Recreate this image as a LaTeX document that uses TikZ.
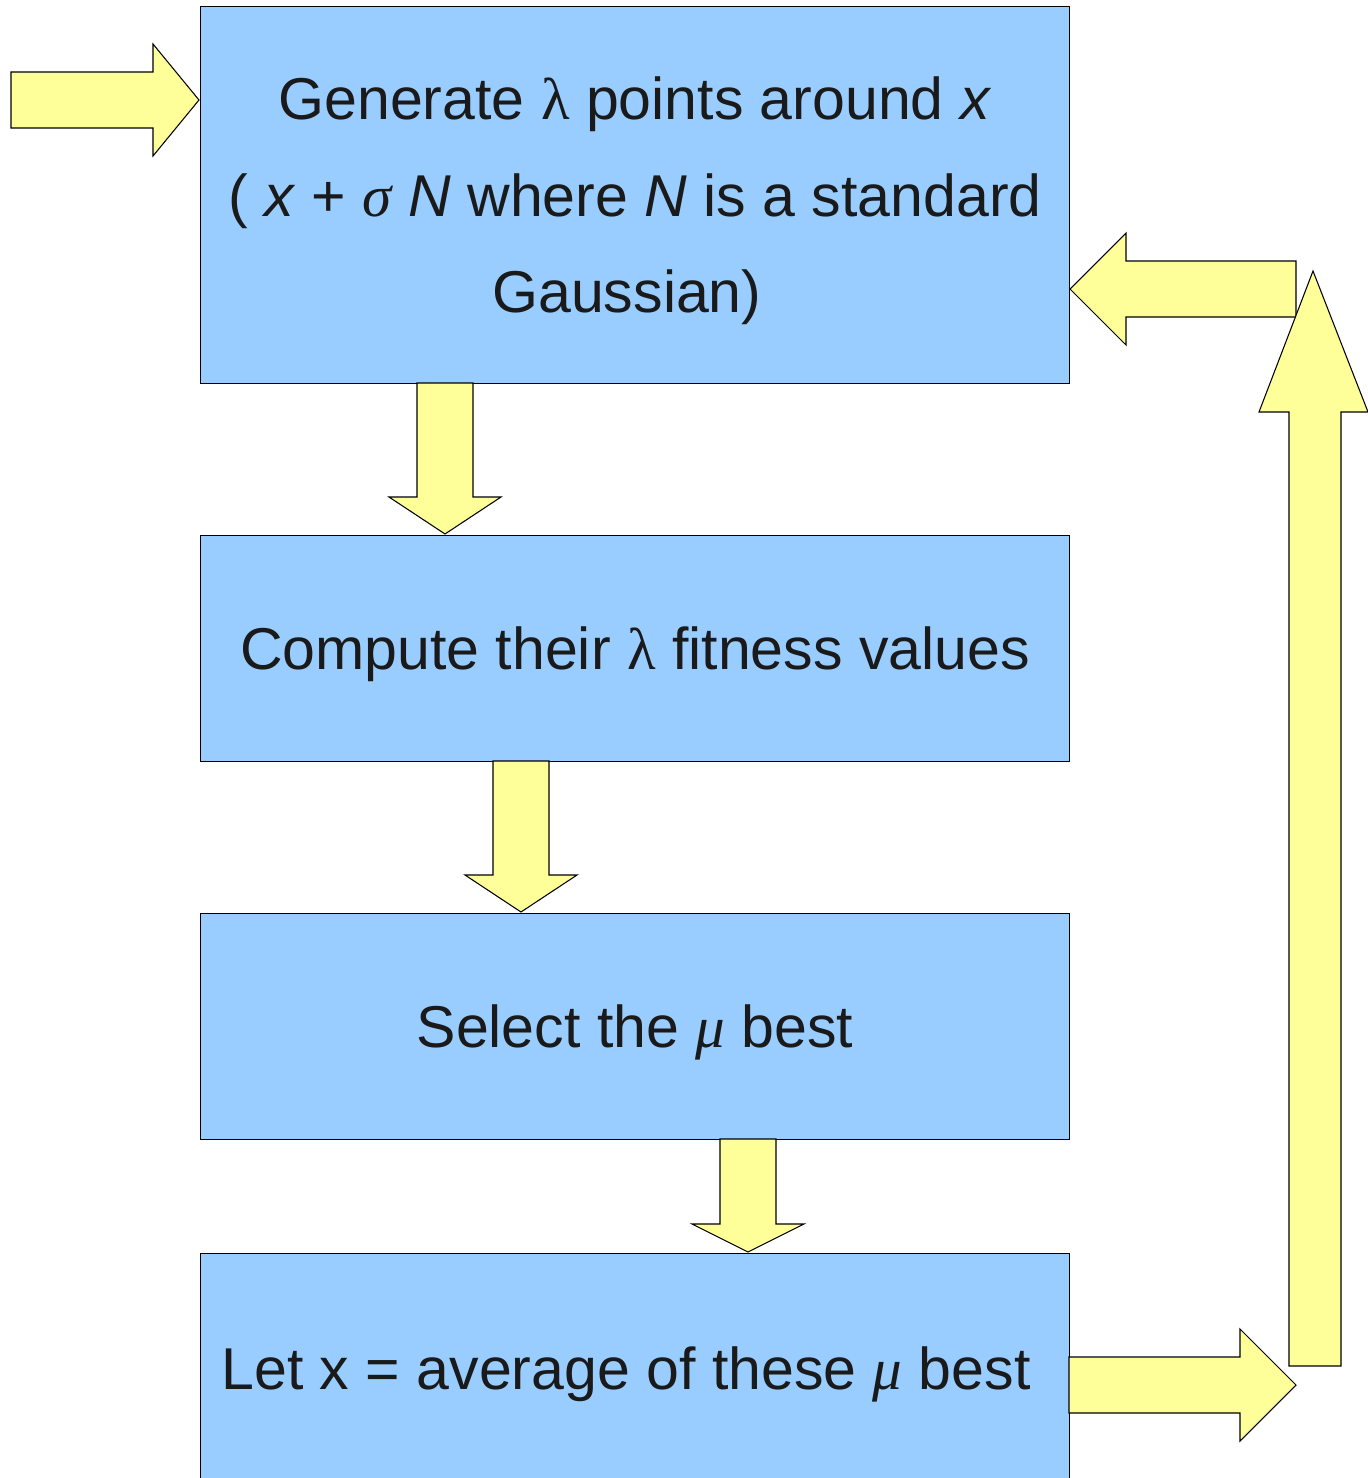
\documentclass[tikz,border=0pt]{standalone}
\usepackage{fontspec}
\setmainfont{Liberation Sans}
\newfontfamily\grk{Liberation Serif}
\definecolor{boxblue}{HTML}{99CCFF}
\definecolor{arrowyellow}{HTML}{FFFF99}
\definecolor{textgray}{HTML}{1A1A1A}
\begin{document}
\begin{tikzpicture}[x=0.02cm,y=-0.02cm,
  box/.style={draw=black, line width=0.6pt, fill=boxblue, inner sep=0pt, anchor=north west, minimum width=17.38cm},
  arr/.style={draw=black, line width=0.6pt, fill=arrowyellow, line join=miter},
  txt/.style={font=\fontsize{33.6}{55}\selectfont, text=textgray, align=center, inner sep=0pt, yshift=-0.12cm}]
\useasboundingbox (0,0) rectangle (1368,1478);
% boxes
\node[box, minimum height=7.54cm] (b1) at (200,6) {};
\node[box, minimum height=4.52cm] (b2) at (200,535) {};
\node[box, minimum height=4.52cm] (b3) at (200,913) {};
\node[box, minimum height=5.2cm] (b4) at (200,1253) {};
% texts
\node[txt] (t1) at (b1.center) {Generate {\grk λ} points around \textit{x}\\( \textit{x} + {\grk\itshape σ} \textit{N} where \textit{N} is a standard\\\hspace*{-0.32cm}Gaussian)};
\node[txt] (t2) at (b2.center) {Compute their {\grk λ} fitness values};
\node[txt] (t3) at (b3.center) {Select the {\grk\itshape μ} best};
\node[txt] (t4) at (626,1368) {Let x = average of these {\grk\itshape μ} best};
% input arrow
\draw[arr] (11,72) -- (153,72) -- (153,44) -- (199,100) -- (153,156) -- (153,128) -- (11,128) -- cycle;
% down arrows
\draw[arr] (417,383) -- (473,383) -- (473,497) -- (501,497) -- (445,534) -- (389,497) -- (417,497) -- cycle;
\draw[arr] (493,761) -- (549,761) -- (549,875) -- (577,875) -- (521,912) -- (465,875) -- (493,875) -- cycle;
\draw[arr] (720,1139) -- (776,1139) -- (776,1224) -- (804,1224) -- (748,1252) -- (692,1224) -- (720,1224) -- cycle;
% bottom right arrow
\draw[arr] (1069,1357) -- (1240,1357) -- (1240,1329) -- (1296,1385) -- (1240,1441) -- (1240,1413) -- (1069,1413) -- cycle;
% return arrow (left)
\draw[arr] (1296,261) -- (1126,261) -- (1126,233) -- (1070,289) -- (1126,345) -- (1126,317) -- (1296,317) -- cycle;
% up arrow
\draw[arr] (1289,1366) -- (1289,412) -- (1259,412) -- (1313,271) -- (1368,412) -- (1341,412) -- (1341,1366) -- cycle;
\end{tikzpicture}
\end{document}
